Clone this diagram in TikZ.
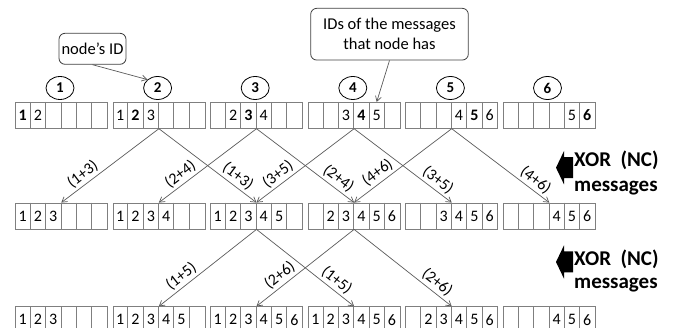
\documentclass[tikz,border=0pt]{standalone}
\usepackage{fontspec}
\setmainfont{Carlito}
\usetikzlibrary{calc,arrows.meta,shapes.geometric}
\definecolor{cellc}{HTML}{7F7F7F}
\definecolor{linec}{HTML}{5A5A5A}
\definecolor{boxc}{HTML}{404040}
\newcommand\msgarr[4]{%
  \node[arrbox] (#1) at (#2,#3) {};
  \foreach \t [count=\i] in {#4} {
    \node[celltext] at ($(#1.west)+(\i*15.333-7.667,0)$) {\t};
    \ifnum\i<6
      \draw[cellline] ($(#1.north west)+(\i*15.333,0)$) -- ($(#1.south west)+(\i*15.333,0)$);
    \fi
  }%
}
\newcommand\blockarrow[1]{%
  \fill[blockarr] (556,#1) -- (564,#1-16.7) -- (564,#1-10.5) -- (573,#1-10.5) -- (573,#1+10.5) -- (564,#1+10.5) -- (564,#1+16.7) -- cycle;%
}
\begin{document}
\begin{tikzpicture}[x=1pt,y=-1pt,
  arrbox/.style={draw=cellc, line width=0.8pt, minimum width=92pt, minimum height=26pt, inner sep=0pt},
  cellline/.style={draw=cellc, line width=0.7pt},
  celltext/.style={inner sep=0pt, font=\fontsize{16}{19}\selectfont},
  idcirc/.style={ellipse, draw=black, line width=0.8pt, minimum width=28pt, minimum height=23pt, inner sep=0pt, font=\fontsize{15}{18}\selectfont\bfseries},
  callout/.style={draw=boxc, line width=0.8pt, rounded corners=6pt, align=center, inner sep=0pt, font=\fontsize{16.5}{20}\selectfont},
  flow/.style={draw=linec, line width=0.7pt, -{Straight Barb[length=5pt,width=6pt]}},
  lab/.style={sloped, above, inner sep=2.5pt, font=\fontsize{16}{18}\selectfont},
  xorlab/.style={anchor=base west, inner sep=0pt, font=\fontsize{21}{25}\selectfont\bfseries},
  blockarr/.style={fill=black, draw=none}
]
\useasboundingbox (0,0) rectangle (674,328);

% row 1
\msgarr{r1a1}{61.3}{115.3}{\textbf{1},2,{},{},{},{}}
\msgarr{r1a2}{158.9}{115.3}{1,\textbf{2},3,{},{},{}}
\msgarr{r1a3}{256.5}{115.3}{{},2,\textbf{3},4,{},{}}
\msgarr{r1a4}{354.1}{115.3}{{},{},3,\textbf{4},5,{}}
\msgarr{r1a5}{451.7}{115.3}{{},{},{},4,\textbf{5},6}
\msgarr{r1a6}{549.3}{115.3}{{},{},{},{},5,\textbf{6}}
% row 2
\msgarr{r2a1}{61.3}{216}{1,2,3,{},{},{}}
\msgarr{r2a2}{158.9}{216}{1,2,3,4,{},{}}
\msgarr{r2a3}{256.5}{216}{1,2,3,4,5,{}}
\msgarr{r2a4}{354.1}{216}{{},2,3,4,5,6}
\msgarr{r2a5}{451.7}{216}{{},{},3,4,5,6}
\msgarr{r2a6}{549.3}{216}{{},{},{},4,5,6}
% row 3
\msgarr{r3a1}{61.3}{319.7}{1,2,3,{},{},{}}
\msgarr{r3a2}{158.9}{319.7}{1,2,3,4,5,{}}
\msgarr{r3a3}{256.5}{319.7}{1,2,3,4,5,6}
\msgarr{r3a4}{354.1}{319.7}{1,2,3,4,5,6}
\msgarr{r3a5}{451.7}{319.7}{{},2,3,4,5,6}
\msgarr{r3a6}{549.3}{319.7}{{},{},{},4,5,6}

% node ID circles
\node[idcirc] (c1) at (60,88) {1};
\node[idcirc] (c2) at (157.6,88) {2};
\node[idcirc] (c3) at (255.2,88) {3};
\node[idcirc] (c4) at (352.8,88) {4};
\node[idcirc] (c5) at (450.4,88) {5};
\node[idcirc] (c6) at (547.5,88) {6};

% callouts
\node[callout, minimum width=67pt, minimum height=31pt] (cb1) at (92.5,48.8) {node’s ID};
\node[callout, minimum width=157.6pt, minimum height=51.7pt] (cb2) at (389.5,34.2) {IDs of the messages\\that node has};
\coordinate (t45) at ($(r1a4.north west)+(4.5*15.333,0)$);
\draw[flow] (cb1.south) -- (c2.north west);
\draw[flow] (cb2.south) -- (t45);

% row 1 -> row 2
\draw[flow] (r1a2.south) -- node[lab, pos=.72] {(1+3)} (r2a1.north);
\draw[flow] (r1a2.south) -- node[lab, pos=.75] {(1+3)} (r2a3.north);
\draw[flow] (r1a3.south) -- node[lab, pos=.72] {(2+4)} (r2a2.north);
\draw[flow] (r1a3.south) -- node[lab, pos=.78] {(2+4)} (r2a4.north);
\draw[flow] (r1a4.south) -- node[lab, pos=.72] {(3+5)} (r2a3.north);
\draw[flow] (r1a4.south) -- node[lab, pos=.80] {(3+5)} (r2a5.north);
\draw[flow] (r1a5.south) -- node[lab, pos=.70] {(4+6)} (r2a4.north);
\draw[flow] (r1a5.south) -- node[lab, pos=.80] {(4+6)} (r2a6.north);
% row 2 -> row 3
\draw[flow] (r2a3.south) -- node[lab, pos=.71] {(1+5)} (r3a2.north);
\draw[flow] (r2a3.south) -- node[lab, pos=.76] {(1+5)} (r3a4.north);
\draw[flow] (r2a4.south) -- node[lab, pos=.70] {(2+6)} (r3a3.north);
\draw[flow] (r2a4.south) -- node[lab, pos=.79] {(2+6)} (r3a5.north);

% XOR labels with block arrows
\blockarrow{167.7}
\node[xorlab] (x1) at (574,166.8) {XOR\ \ (NC)};
\node[xorlab] (m1) at (574,191.7) {messages};
\blockarrow{262}
\node[xorlab] (x2) at (574,265.2) {XOR\ \ (NC)};
\node[xorlab] (m2) at (574,289) {messages};
\end{tikzpicture}
\end{document}
